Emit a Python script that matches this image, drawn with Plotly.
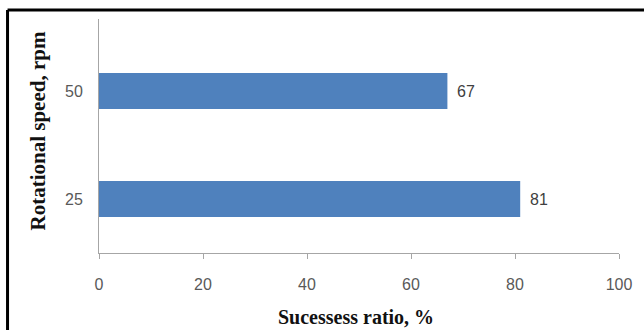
import plotly.graph_objects as go

categories = ["25", "50"]
values = [81, 67]
x_ticks = [0, 20, 40, 60, 80, 100]
x_title = "Sucessess ratio, %"
y_title = "Rotational speed, rpm"

BAR_COLOR = "#4F81BD"
TICK_FONT = dict(family="Liberation Sans, Arial, sans-serif", size=16, color="#595959")

fig = go.Figure()
fig.add_trace(go.Bar(
    x=values, y=categories, orientation="h",
    marker=dict(color=BAR_COLOR, line=dict(width=0)),
    width=0.333,
))

for i, v in enumerate(values):
    fig.add_annotation(x=v, y=i, xref="x", yref="y", text=str(v),
                       showarrow=False, xanchor="left", xshift=8,
                       font=dict(family="Liberation Sans, Arial, sans-serif", size=16, color="#404040"))

fig.add_annotation(x=0.494, y=-0.272, xref="paper", yref="paper", text="<b>%s</b>" % x_title,
                   showarrow=False, xanchor="center", yanchor="middle",
                   font=dict(family="Liberation Serif, Times New Roman, serif", size=20, color="#111111"))
fig.add_annotation(x=-0.117, y=0.52, xref="paper", yref="paper", text="<b>%s</b>" % y_title,
                   showarrow=False, textangle=-90, xanchor="center", yanchor="middle",
                   font=dict(family="Liberation Serif, Times New Roman, serif", size=21, color="#111111"))

# outer frame (left and top edges visible)
fig.add_shape(type="line", xref="paper", yref="paper", x0=-0.1759, x1=1.1, y0=1.0385, y1=1.0385,
              line=dict(color="#000000", width=3))
fig.add_shape(type="line", xref="paper", yref="paper", x0=-0.1759, x1=-0.1759, y0=-0.35, y1=1.0385,
              line=dict(color="#000000", width=3))

fig.update_layout(
    width=644, height=330,
    margin=dict(l=99, r=22, t=19, b=77),
    paper_bgcolor="white", plot_bgcolor="white",
    showlegend=False,
    xaxis=dict(range=[0, 100], tickvals=x_ticks, showgrid=False, zeroline=False,
               showline=True, linecolor="#A6A6A6", linewidth=1,
               ticks="outside", ticklen=5, tickcolor="#A6A6A6",
               tickfont=TICK_FONT, ticklabelstandoff=12),
    yaxis=dict(type="category", categoryorder="array", categoryarray=categories,
               range=[-0.5, 1.6667], showgrid=False, zeroline=False,
               showline=True, linecolor="#A6A6A6", linewidth=1,
               ticks="", tickfont=TICK_FONT, ticklabelstandoff=12),
)

fig.write_html("out.html")
